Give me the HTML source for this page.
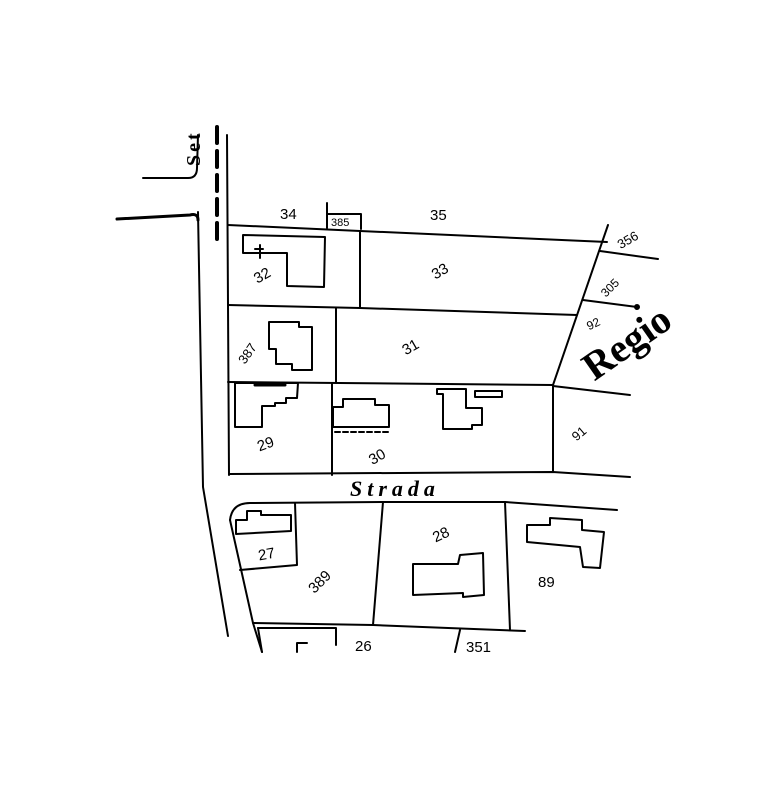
<!DOCTYPE html>
<html><head><meta charset="utf-8"><style>
html,body{margin:0;padding:0;background:#fff}
svg{display:block}
.n{font-size:15px;font-family:"Liberation Sans",sans-serif}
</style></head><body>
<svg width="770" height="806" viewBox="0 0 770 806" xmlns="http://www.w3.org/2000/svg">
<g fill="none" stroke="#000" stroke-width="2" stroke-linejoin="round" stroke-linecap="round">
<path d="M227,135 L229,475"/>
<path d="M198,212 L203,487 L228,636"/>
<path d="M217,127 L217,247" stroke-width="4" stroke-dasharray="16,8"/>
<path d="M143,178 L188,178 Q197,178 197,168 L198,135"/>
<path d="M117,219 L190,215 Q198,213 198,220" stroke-width="3"/>
<path d="M228,225 L360,231 L607,242"/>
<path d="M327,203 L327,228 M327,214 L361,214 L361,229"/>
<path d="M360,231 L360,308"/>
<path d="M228,305 L360,308 L577,315"/>
<path d="M336,308 L336,382"/>
<path d="M228,382 L553,385"/>
<path d="M332,383 L332,475"/>
<path d="M230,474 L553,472 L630,477"/>
<path d="M553,385 L553,472"/>
<path d="M553,385 L608,225"/>
<path d="M600,251 L658,259"/>
<path d="M583,300 L637,307"/>
<circle cx="637" cy="307" r="2" fill="#000"/>
<path d="M553,386 L630,395"/>
<path d="M243,235 L325,237 L324,287 L287,286 L287,253 L243,253 Z"/>
<path d="M260,245 L260,258 M255,249 L263,249"/>
<path d="M269,322 L299,322 L299,327 L312,327 L312,370 L292,370 L292,364 L276,364 L276,349 L269,349 Z"/>
<path d="M235,383 L298,383 L297,398 L286,398 L286,403 L275,403 L275,406 L262,406 L262,427 L235,427 Z"/>
<path d="M255,385 L285,385" stroke-width="3"/>
<path d="M333,407 L343,407 L343,399 L375,399 L375,405 L389,405 L389,427 L333,427 Z"/>
<path d="M335,432 L389,432" stroke-dasharray="5,3"/>
<path d="M437,389 L466,389 L466,408 L482,408 L482,425 L472,425 L472,429 L443,429 L443,394 L437,394 Z"/>
<path d="M475,391 L502,391 L502,397 L475,397 Z"/>
<path d="M230,520 Q232,503 250,503 L383,502 L505,502 L617,510"/>
<path d="M230,520 L253,623 L262,652"/>
<path d="M258,628 L262,652"/>
<path d="M295,503 L297,565 L240,570"/>
<path d="M236,520 L247,520 L247,511 L261,511 L261,515 L291,515 L291,531 L236,534 Z"/>
<path d="M383,502 L373,625"/>
<path d="M505,502 L510,630"/>
<path d="M253,623 L373,625 L525,631"/>
<path d="M413,564 L458,564 L460,555 L483,553 L484,595 L463,597 L463,593 L413,595 Z"/>
<path d="M527,525 L550,525 L550,518 L582,520 L582,530 L604,532 L600,568 L583,567 L580,547 L527,542 Z"/>
<path d="M258,628 L336,628 L336,645"/>
<path d="M297,652 L297,643 L307,643"/>
<path d="M460,630 L455,652"/>
</g>
<text x="168" y="162" transform="rotate(-90 186 148)" style="font-family:'Liberation Serif',serif;font-weight:bold;font-size:20px;letter-spacing:3px">Set</text>
<text class="n" x="280" y="219">34</text>
<text x="331" y="226" style="font-family:'Liberation Sans',sans-serif;font-size:11px">385</text>
<text class="n" x="430" y="220">35</text>
<text class="n" x="252" y="280" transform="rotate(-30 262 272)">32</text>
<text class="n" x="431" y="276" transform="rotate(-30 440 270)">33</text>
<text class="n" x="401" y="352" transform="rotate(-30 410 345)">31</text>
<text class="n" x="234" y="356" transform="rotate(-55 248 350)" style="font-size:13px">387</text>
<text class="n" x="257" y="448" transform="rotate(-20 268 443)">29</text>
<text class="n" x="368" y="461" transform="rotate(-30 378 455)">30</text>
<text class="n" x="571" y="437" transform="rotate(-40 580 432)" style="font-size:13px">91</text>
<text class="n" x="586" y="327" transform="rotate(-25 595 322)" style="font-size:12px">92</text>
<text class="n" x="598" y="291" transform="rotate(-45 610 285)" style="font-size:12px">305</text>
<text class="n" x="616" y="244" transform="rotate(-30 628 238)" style="font-size:13px">356</text>
<text x="566" y="364" transform="rotate(-35 608 328)" style="font-family:'Liberation Serif',serif;font-weight:bold;font-size:40px">Regio</text>
<text x="350" y="496" style="font-family:'Liberation Serif',serif;font-weight:bold;font-style:italic;font-size:22px;letter-spacing:5px">Strada</text>
<text class="n" x="258" y="559" transform="rotate(-10 267 553)">27</text>
<text class="n" x="306" y="586" transform="rotate(-45 320 580)">389</text>
<text class="n" x="432" y="539" transform="rotate(-25 442 533)">28</text>
<text class="n" x="538" y="587">89</text>
<text class="n" x="355" y="651">26</text>
<text class="n" x="466" y="652">351</text>
</svg>
</body></html>
